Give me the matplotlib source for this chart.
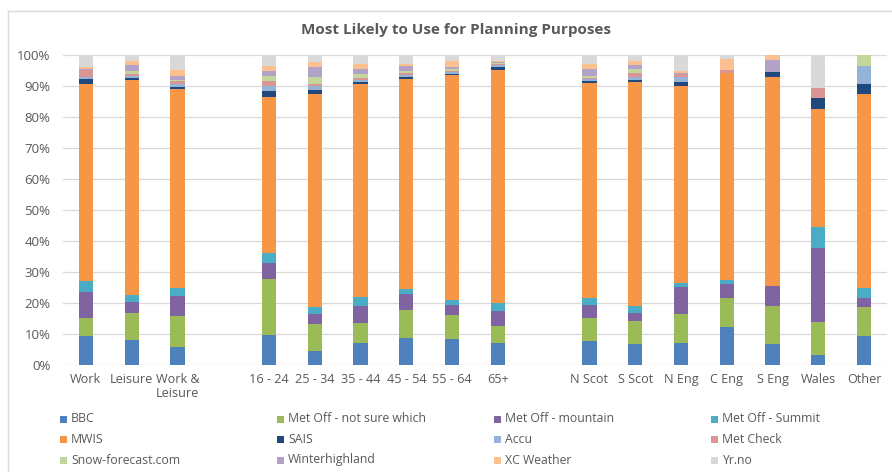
import matplotlib
matplotlib.use("Agg")
import matplotlib.pyplot as plt
from matplotlib.patches import Rectangle
from matplotlib.lines import Line2D
import numpy as np

plt.rcParams['font.family'] = ['Open Sans', 'DejaVu Sans']

categories = ["Work", "Leisure", "Work &\nLeisure",
              "16 - 24", "25 - 34", "35 - 44", "45 - 54", "55 - 64", "65+",
              "N Scot", "S Scot", "N Eng", "C Eng", "S Eng", "Wales", "Other"]
group_sizes = [3, 6, 7]

series = ["BBC", "Met Off - not sure which", "Met Off - mountain", "Met Off - Summit",
          "MWIS", "SAIS", "Accu", "Met Check",
          "Snow-forecast.com", "Winterhighland", "XC Weather", "Yr.no"]

bbc       = [9.4, 8.1, 5.7, 9.8, 4.6, 7.2, 8.7, 8.3, 7.2, 7.6, 6.9, 7.1, 12.4, 6.7, 3.2, 9.4]
not_sure  = [5.9, 8.6, 10.1, 18.0, 8.6, 6.5, 9.0, 7.7, 5.5, 7.6, 7.4, 9.2, 9.1, 12.2, 10.6, 9.2]
mountain  = [8.4, 3.5, 6.5, 5.0, 3.1, 5.4, 5.2, 3.2, 4.6, 4.2, 2.4, 9.0, 4.5, 6.7, 24.0, 3.1]
summit    = [3.5, 2.4, 2.6, 3.2, 2.3, 2.9, 1.5, 1.8, 2.7, 2.3, 2.4, 1.3, 1.3, 0.0, 6.8, 3.2]
mwis      = [63.3, 69.3, 64.0, 50.6, 68.7, 68.5, 67.8, 72.7, 75.2, 69.2, 72.3, 63.3, 66.8, 67.4, 37.9, 62.4]
sais      = [1.8, 0.7, 0.8, 1.9, 1.4, 0.9, 0.6, 0.3, 0.9, 0.8, 0.6, 1.3, 0.0, 1.4, 3.5, 3.2]
accu      = [0.7, 0.6, 1.1, 1.5, 1.3, 0.5, 0.6, 0.4, 0.8, 0.5, 1.0, 1.6, 0.0, 0.0, 0.0, 6.1]
met_check = [2.2, 0.6, 0.7, 1.7, 0.8, 0.8, 0.7, 0.6, 0.2, 0.3, 1.1, 1.1, 1.1, 0.0, 3.5, 0.0]
snow      = [0.1, 1.1, 0.4, 1.5, 2.0, 1.2, 0.6, 0.4, 0.2, 0.8, 1.3, 0.0, 0.0, 0.0, 0.0, 3.4]
winterhl  = [0.1, 1.9, 1.4, 1.5, 3.2, 1.5, 1.6, 0.8, 0.3, 2.1, 1.3, 0.3, 0.0, 4.0, 0.0, 0.0]
xc        = [0.6, 1.4, 2.0, 1.9, 1.6, 1.8, 0.8, 2.0, 0.5, 1.7, 1.4, 0.7, 3.5, 1.6, 0.0, 0.0]
yrno      = [4.0, 1.8, 4.7, 3.4, 2.4, 2.8, 2.9, 1.8, 1.9, 2.9, 1.9, 5.1, 1.3, 0.0, 10.5, 0.0]

values = [bbc, not_sure, mountain, summit, mwis, sais, accu, met_check, snow, winterhl, xc, yrno]
colors = ["#4F81BD", "#9BBB59", "#8064A2", "#4BACC6",
          "#F79646", "#1F497D", "#95B3D7", "#D99694",
          "#C3D69B", "#B3A2C7", "#FAC090", "#D9D9D9"]

# positions: groups separated by one empty slot
pos = []
start = 0
for g in group_sizes:
    pos.extend(range(start, start + g))
    start += g + 1
pos = np.array(pos, dtype=float)
nslots = start - 1

W, H = 892, 472
fig = plt.figure(figsize=(W / 100, H / 100), dpi=100)
ax = fig.add_axes([63 / W, 1 - 365 / H, (887 - 63) / W, (365 - 55) / H])

data = np.array(values)
totals = data.sum(axis=0)
data = data / totals * 100
bottom = np.zeros(len(categories))
for name, vals, c in zip(series, data, colors):
    ax.bar(pos, vals, width=0.31, bottom=bottom, color=c, label=name, zorder=3, linewidth=0)
    bottom += vals

ax.set_xlim(-0.5, nslots - 0.5)
ax.set_ylim(0, 100)
ax.set_yticks(np.arange(0, 101, 10))
ax.set_yticklabels([f"{v}%" for v in range(0, 101, 10)])
ax.set_xticks(pos)
ax.set_xticklabels(categories, linespacing=1.05)
ax.grid(axis='y', color="#D9D9D9", linewidth=0.9, zorder=0)
for s in ax.spines.values():
    s.set_visible(False)
ax.tick_params(axis='both', length=0, colors="#595959", labelsize=9.5)
ax.tick_params(axis='x', labelsize=9.1)
ax.tick_params(axis='y', pad=9)
ax.tick_params(axis='x', pad=6)

fig.text(456 / W, 1 - 30 / H, "Most Likely to Use for Planning Purposes",
         ha='center', va='center', fontsize=11, fontweight='bold', color="#595959")

# chart frame (left and top edges visible)
fig.add_artist(Line2D([8 / W, 8 / W], [1 - 11 / H, 0], transform=fig.transFigure,
                      color="#D9D9D9", linewidth=1))
fig.add_artist(Line2D([8 / W, 1], [1 - 11 / H, 1 - 11 / H], transform=fig.transFigure,
                      color="#D9D9D9", linewidth=1))

# legend: 4 columns, row-major order
for i, (name, c) in enumerate(zip(series, colors)):
    col, row = i % 4, i // 4
    x0 = 60 + 217 * col
    yc = 419 + 20.5 * row
    fig.add_artist(Rectangle((x0 / W, 1 - (yc + 3.5) / H), 7 / W, 7 / H,
                             transform=fig.transFigure, facecolor=c, edgecolor='none'))
    fig.text((x0 + 11) / W, 1 - yc / H, name, ha='left', va='center',
             fontsize=8.8, color="#595959")

fig.savefig("out.png", dpi=100)
